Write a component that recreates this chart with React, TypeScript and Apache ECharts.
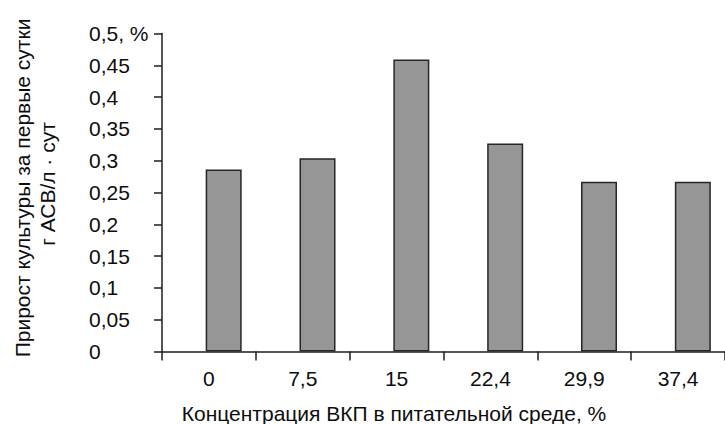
import React, { useEffect, useRef } from "react";
import * as echarts from "echarts";

const categories = ["0", "7,5", "15", "22,4", "29,9", "37,4"];
const growthValues = [0.286, 0.304, 0.459, 0.327, 0.267, 0.267];
const yTopLabel = "0,5, %";
const xTitle = "Концентрация ВКП в питательной среде, %";
const yTitleLine1 = "Прирост культуры за первые сутки";
const yTitleLine2 = "г АСВ/л · сут";

const FONT = '"Liberation Sans", Arial, sans-serif';

export default function App() {
  const ref = useRef<HTMLDivElement>(null);
  useEffect(() => {
    if (!ref.current) return;
    const chart = echarts.init(ref.current, null, { renderer: "svg" });
    chart.setOption({
      animation: false,
      backgroundColor: "#ffffff",
      textStyle: { fontFamily: FONT },
      grid: { left: 162, top: 33.5, bottom: 72.5, right: -8.5, containLabel: false },
      xAxis: {
        type: "category",
        data: categories,
        boundaryGap: true,
        axisLine: { lineStyle: { color: "#1e1e1e", width: 1.5 } },
        axisTick: { show: true, length: 9, inside: false, alignWithLabel: false, lineStyle: { color: "#1e1e1e", width: 1.5 } },
        axisLabel: { color: "#0d0d0d", fontSize: 21, fontFamily: FONT, margin: 16, interval: 0 },
        splitLine: { show: false },
      },
      yAxis: {
        type: "value",
        min: 0,
        max: 0.5,
        interval: 0.05,
        axisLine: { show: true, lineStyle: { color: "#1e1e1e", width: 1.5 } },
        axisTick: { show: true, length: 8, inside: false, lineStyle: { color: "#1e1e1e", width: 1.5 } },
        axisLabel: {
          color: "#0d0d0d",
          fontSize: 21,
          fontFamily: FONT,
          align: "left",
          margin: 73,
          formatter: (v: number) => {
            const r = parseFloat(v.toFixed(2));
            if (Math.abs(r - 0.5) < 1e-9) return yTopLabel;
            return String(r).replace(".", ",");
          },
        },
        splitLine: { show: false },
      },
      series: [
        {
          type: "bar",
          name: "spacer",
          data: categories.map(() => null),
          barWidth: 36,
          barGap: "-18%",
          silent: true,
          itemStyle: { color: "transparent" },
        },
        {
          type: "bar",
          name: "growth",
          data: growthValues,
          barWidth: 36,
          barGap: "-18%",
          itemStyle: { color: "#969696", borderColor: "#262626", borderWidth: 1.5 },
        },
      ],
      graphic: [
        {
          type: "text",
          x: 394,
          y: 413,
          style: { text: xTitle, font: `21px ${FONT}`, fill: "#0d0d0d", textAlign: "center", textVerticalAlign: "middle" },
        },
        {
          type: "text",
          x: 22,
          y: 188,
          rotation: Math.PI / 2,
          style: { text: yTitleLine1, font: `21px ${FONT}`, fill: "#0d0d0d", textAlign: "center", textVerticalAlign: "middle" },
        },
        {
          type: "text",
          x: 47,
          y: 184,
          rotation: Math.PI / 2,
          style: { text: yTitleLine2, font: `21px ${FONT}`, fill: "#0d0d0d", textAlign: "center", textVerticalAlign: "middle" },
        },
      ],
    });
    return () => chart.dispose();
  }, []);
  return (
    <div
      ref={ref}
      style={{ position: "fixed", left: 0, top: 0, width: 725, height: 424, background: "#fff" }}
    />
  );
}
